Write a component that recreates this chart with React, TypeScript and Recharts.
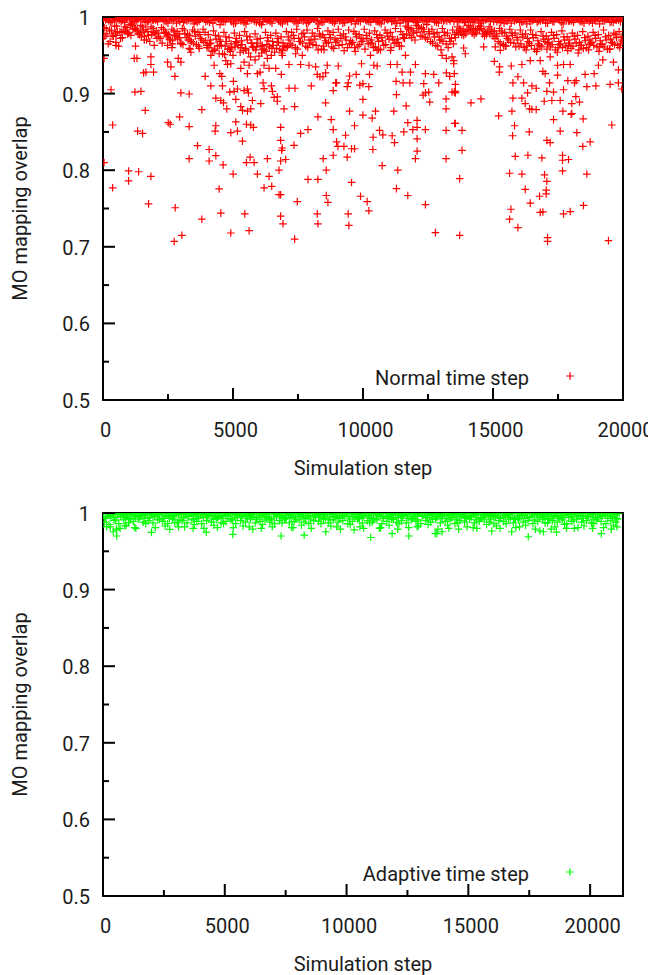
import React from 'react';
import { ScatterChart, Scatter, XAxis, YAxis, Legend, ReferenceArea } from 'recharts';

// ---------- axis ticks ----------
const normalXTicks = [0, 2500, 5000, 7500, 10000, 12500, 15000, 17500, 20000];
const adaptiveXTicks = [0, 2500, 5000, 7500, 10000, 12500, 15000, 17500, 20000];
const yTicks = [0.5, 0.55, 0.6, 0.65, 0.7, 0.75, 0.8, 0.85, 0.9, 0.95, 1];
const normalXMax = 20000;
const adaptiveXMax = 21350;
const yTitle = 'MO mapping overlap';
const xTitle = 'Simulation step';
const normalLabel = 'Normal time step';
const adaptiveLabel = 'Adaptive time step';

// ---------- Normal time step: dense band sampled every 200 steps ----------
const normalBand1 = [
  1, 1, 0.999, 1, 1, 1, 0.999, 1, 1, 1,
  1, 0.999, 1, 1, 1, 1, 1, 0.999, 1, 1,
  1, 1, 1, 0.999, 1, 1, 1, 1, 1, 0.999,
  1, 1, 1, 1, 0.999, 1, 1, 1, 1, 1,
  0.999, 1, 1, 1, 1, 1, 0.999, 1, 1, 1,
  1, 1, 0.999, 1, 1, 1, 1, 1, 1, 0.999,
  1, 1, 1, 1, 0.999, 1, 1, 1, 1, 1,
  1, 0.999, 1, 1, 1, 1, 1, 1, 0.999, 1,
  1, 1, 1, 0.999, 1, 1, 1, 1, 1, 1,
  0.999, 1, 1, 1, 1, 1, 0.999, 1, 1, 1,
  1,
];
const normalBand9 = [
  1, 0.999, 0.998, 1, 0.999, 1, 0.998, 0.999, 1, 0.999,
  0.998, 1, 0.999, 0.999, 1, 0.998, 1, 0.999, 0.998, 1,
  0.999, 1, 0.998, 1, 0.999, 0.999, 1, 0.998, 0.999, 1,
  1, 0.998, 0.999, 1, 0.999, 0.998, 1, 0.999, 1, 0.998,
  0.999, 1, 1, 0.998, 0.999, 1, 0.999, 0.998, 1, 0.999,
  1, 0.999, 0.998, 0.999, 1, 0.998, 0.999, 1, 0.999, 1,
  0.998, 0.999, 1, 0.999, 0.998, 1, 1, 0.999, 0.998, 0.999,
  1, 0.998, 0.999, 1, 0.999, 1, 0.998, 0.999, 1, 0.998,
  0.999, 1, 0.998, 0.999, 1, 0.999, 1, 0.998, 0.999, 1,
  1, 0.999, 0.998, 1, 0.999, 0.998, 1, 0.999, 1, 0.999,
];
const normalBand10 = [
  0.997, 0.995, 0.998, 0.996, 0.999, 0.994, 0.997, 0.998, 0.995, 0.996,
  0.998, 0.995, 0.997, 0.999, 0.994, 0.996, 0.998, 0.995, 0.997, 0.994,
  0.996, 0.999, 0.995, 0.997, 0.994, 0.998, 0.996, 0.995, 0.999, 0.997,
  0.994, 0.996, 0.998, 0.995, 0.997, 0.999, 0.994, 0.996, 0.998, 0.995,
  0.997, 0.994, 0.999, 0.996, 0.995, 0.997, 0.998, 0.994, 0.996, 0.999,
  0.995, 0.997, 0.994, 0.998, 0.996, 0.995, 0.999, 0.997, 0.994, 0.996,
  0.998, 0.995, 0.997, 0.994, 0.999, 0.996, 0.995, 0.998, 0.997, 0.994,
  0.996, 0.999, 0.995, 0.997, 0.998, 0.994, 0.996, 0.995, 0.999, 0.997,
  0.994, 0.998, 0.996, 0.995, 0.997, 0.999, 0.994, 0.996, 0.998, 0.995,
  0.997, 0.994, 0.999, 0.996, 0.995, 0.998, 0.997, 0.994, 0.996, 0.999,
];
const normalBand2 = [
  0.996, 0.993, 0.997, 0.994, 0.998, 0.992, 0.995, 0.997, 0.993, 0.996,
  0.994, 0.997, 0.992, 0.995, 0.998, 0.993, 0.996, 0.991, 0.995, 0.997,
  0.993, 0.996, 0.990, 0.994, 0.997, 0.992, 0.995, 0.991, 0.996, 0.993,
  0.990, 0.995, 0.992, 0.997, 0.991, 0.994, 0.996, 0.992, 0.995, 0.993,
  0.997, 0.991, 0.994, 0.996, 0.992, 0.995, 0.993, 0.997, 0.991, 0.994,
  0.996, 0.993, 0.995, 0.991, 0.997, 0.994, 0.992, 0.996, 0.995, 0.997,
  0.993, 0.996, 0.994, 0.997, 0.992, 0.995, 0.997, 0.994, 0.996, 0.993,
  0.997, 0.995, 0.992, 0.996, 0.994, 0.997, 0.993, 0.995, 0.992, 0.996,
  0.994, 0.991, 0.995, 0.993, 0.996, 0.992, 0.994, 0.997, 0.991, 0.995,
  0.993, 0.996, 0.992, 0.994, 0.997, 0.991, 0.995, 0.993, 0.996, 0.994,
];
const normalBand6 = [
  0.998, 0.995, 0.999, 0.996, 0.993, 0.998, 0.995, 0.999, 0.994, 0.997,
  0.996, 0.999, 0.994, 0.997, 0.992, 0.998, 0.995, 0.997, 0.993, 0.999,
  0.995, 0.992, 0.997, 0.994, 0.999, 0.991, 0.996, 0.993, 0.998, 0.995,
  0.992, 0.997, 0.994, 0.999, 0.993, 0.996, 0.998, 0.994, 0.997, 0.992,
  0.999, 0.995, 0.993, 0.997, 0.994, 0.998, 0.992, 0.996, 0.999, 0.995,
  0.997, 0.994, 0.998, 0.993, 0.996, 0.999, 0.995, 0.992, 0.997, 0.998,
  0.994, 0.999, 0.996, 0.998, 0.993, 0.997, 0.995, 0.999, 0.994, 0.996,
  0.998, 0.993, 0.997, 0.995, 0.999, 0.994, 0.996, 0.992, 0.998, 0.995,
  0.993, 0.997, 0.994, 0.999, 0.995, 0.992, 0.996, 0.998, 0.993, 0.997,
  0.995, 0.999, 0.994, 0.996, 0.992, 0.998, 0.995, 0.997, 0.993, 0.996,
];
const normalBand3 = [
  0.986, 0.983, 0.988, 0.981, 0.987, 0.990, 0.985, 0.989, 0.984, 0.987,
  0.982, 0.986, 0.979, 0.984, 0.981, 0.985, 0.978, 0.983, 0.980, 0.984,
  0.977, 0.982, 0.975, 0.980, 0.973, 0.979, 0.976, 0.981, 0.974, 0.978, 0.972, 0.980, 0.976, 0.979, 0.974, 0.981,
  0.980, 0.984, 0.978, 0.983, 0.979, 0.985, 0.977, 0.982, 0.980, 0.984, 0.978, 0.983, 0.981, 0.977, 0.984, 0.979, 0.982, 0.976, 0.983, 0.980, 0.985, 0.981,
  0.988, 0.985, 0.989, 0.986, 0.990, 0.984, 0.980, 0.985, 0.979, 0.983,
  0.987, 0.984, 0.989, 0.985, 0.988, 0.983, 0.987, 0.982, 0.985, 0.980, 0.984, 0.979, 0.983,
  0.978, 0.983, 0.976, 0.981, 0.975, 0.980, 0.977, 0.982, 0.974, 0.979, 0.976, 0.981, 0.975, 0.980, 0.977, 0.983, 0.976, 0.979, 0.981,
];
const normalBand7 = [
  0.985, 0.982, 0.988, 0.980, 0.986, 0.989, 0.983, 0.987, 0.981, 0.985,
  0.979, 0.984, 0.977, 0.982, 0.978, 0.983, 0.976, 0.981, 0.977, 0.980,
  0.970, 0.976, 0.968, 0.974, 0.965, 0.972, 0.969, 0.975, 0.966, 0.971, 0.963, 0.973, 0.968, 0.972, 0.966, 0.974,
  0.976, 0.972, 0.979, 0.970, 0.975, 0.978, 0.973, 0.977, 0.971, 0.976, 0.974, 0.969, 0.978, 0.972, 0.976, 0.970, 0.977, 0.973, 0.979, 0.974, 0.971, 0.977,
  0.986, 0.982, 0.988, 0.984, 0.981, 0.978, 0.974, 0.980, 0.972, 0.977,
  0.985, 0.981, 0.987, 0.983, 0.988, 0.980, 0.984, 0.978, 0.982, 0.975, 0.979, 0.973, 0.977,
  0.972, 0.977, 0.969, 0.975, 0.971, 0.976, 0.968, 0.974, 0.970, 0.975, 0.967, 0.973, 0.970, 0.976, 0.969, 0.974, 0.971, 0.977, 0.974,
];
const normalBand4 = [
  0.978, 0.975, 0.981, 0.973, 0.979, 0.984, 0.978, 0.982, 0.976, 0.980,
  0.974, 0.979, 0.971, 0.976, 0.973, 0.978, 0.970, 0.975, 0.972, 0.969,
  0.966, 0.971, 0.963, 0.968, 0.960, 0.967, 0.964, 0.970, 0.961, 0.966, 0.958, 0.969, 0.963, 0.967, 0.962, 0.970,
  0.972, 0.968, 0.974, 0.966, 0.971, 0.975, 0.969, 0.973, 0.967, 0.972, 0.970, 0.965, 0.974, 0.968, 0.972, 0.966, 0.973, 0.969, 0.975, 0.970, 0.967, 0.973,
  0.984, 0.979, 0.985, 0.981, 0.978, 0.974, 0.970, 0.976, 0.968, 0.973,
  0.982, 0.978, 0.984, 0.979, 0.985, 0.977, 0.981, 0.975, 0.979, 0.972, 0.976, 0.970, 0.974,
  0.968, 0.973, 0.965, 0.971, 0.967, 0.972, 0.964, 0.970, 0.966, 0.971, 0.963, 0.969, 0.966, 0.972, 0.965, 0.970, 0.967, 0.973, 0.970,
];
const normalBand8 = [
  0.975, 0.968, 0.979, 0.972, 0.981, 0.976, 0.983, 0.974, 0.970, 0.977,
  0.972, 0.966, 0.974, 0.969, 0.971, 0.964, 0.970, 0.966, 0.962, 0.967,
  0.960, 0.956, 0.963, 0.951, 0.958, 0.961, 0.954, 0.959, 0.948, 0.957, 0.962, 0.955, 0.950, 0.959, 0.953, 0.960,
  0.963, 0.958, 0.966, 0.960, 0.964, 0.957, 0.962, 0.967, 0.959, 0.963, 0.956, 0.965, 0.960, 0.964, 0.958, 0.966, 0.961, 0.957, 0.964, 0.960, 0.966, 0.962,
  0.978, 0.973, 0.980, 0.975, 0.971, 0.966, 0.962, 0.968, 0.960, 0.965,
  0.979, 0.976, 0.982, 0.977, 0.983, 0.975, 0.978, 0.972, 0.966, 0.962, 0.967, 0.961, 0.965,
  0.957, 0.963, 0.955, 0.961, 0.958, 0.964, 0.954, 0.960, 0.956, 0.962, 0.953, 0.959, 0.957, 0.963, 0.955, 0.961, 0.958, 0.964, 0.960,
];
const normalBand5 = [
  0.972, 0.965, 0.975, 0.962,
  0.983, 0.979, 0.985, 0.977,
  0.975, 0.968, 0.978, 0.972, 0.980,
  0.970, 0.975, 0.966, 0.973, 0.968,
  0.964, 0.970, 0.960,
  0.955, 0.962, 0.952, 0.958, 0.950, 0.963, 0.956, 0.953, 0.960, 0.949, 0.957, 0.961, 0.954, 0.958, 0.962,
  0.965, 0.960, 0.968, 0.962, 0.970, 0.963, 0.958, 0.966, 0.961, 0.969, 0.964, 0.960, 0.967, 0.962, 0.970, 0.965, 0.960, 0.968, 0.963, 0.971, 0.966, 0.962,
  0.972, 0.976, 0.970, 0.975, 0.973,
  0.968, 0.963, 0.970, 0.965, 0.972,
  0.980, 0.977, 0.983, 0.979, 0.984, 0.978, 0.981, 0.975,
  0.968, 0.964, 0.970, 0.966, 0.962,
  0.960, 0.966, 0.958, 0.963, 0.968, 0.961, 0.957, 0.965, 0.962, 0.959, 0.966, 0.963, 0.960, 0.967, 0.961, 0.964, 0.958, 0.966, 0.963, 0.968,
];
const normalDense = [
  [4100, 0.965], [4300, 0.958], [4500, 0.970], [4700, 0.962], [4900, 0.955], [5100, 0.968], [5300, 0.960], [5500, 0.957],
  [5700, 0.966], [5900, 0.961], [6100, 0.953], [6300, 0.964], [6500, 0.959], [6700, 0.967], [6900, 0.956], [7100, 0.962],
  [16300, 0.962], [16700, 0.958], [17100, 0.965], [17500, 0.960], [17900, 0.963], [18300, 0.957], [18700, 0.964],
  [19100, 0.961], [19500, 0.958], [19900, 0.965], [1250, 0.962], [2650, 0.960], [3350, 0.958], [8500, 0.957],
  [9700, 0.955], [10600, 0.958], [13000, 0.957], [15500, 0.962],
];
// ---------- Normal time step: scattered low values ----------
const normalScatter = [
  [307, 0.905], [1229, 0.902], [1459, 0.903], [2995, 0.901], [3315, 0.8995], [1625, 0.878], [371, 0.859], [2509, 0.862],
  [2585, 0.86], [2944, 0.8695], [3801, 0.879], [1331, 0.851], [1523, 0.848], [3315, 0.857], [4339, 0.858], [4313, 0.851],
  [4915, 0.849], [5171, 0.851], [5107, 0.863], [5517, 0.86], [5683, 0.859], [5785, 0.856], [5363, 0.838], [3635, 0.832],
  [4083, 0.827], [4339, 0.819], [3315, 0.815], [4083, 0.812], [4621, 0.807], [5517, 0.81], [5657, 0.817], [5811, 0.81],
  [6323, 0.815], [985, 0.799], [1369, 0.798], [985, 0.786], [1843, 0.792], [5005, 0.795], [5939, 0.795], [6387, 0.792],
  [371, 0.777], [4467, 0.7755], [6195, 0.777], [6490, 0.779], [6771, 0.768], [1753, 0.756], [2777, 0.751], [3801, 0.736],
  [4531, 0.744], [5453, 0.743], [4915, 0.718], [5619, 0.721], [2739, 0.707], [3033, 0.715],
  [1203, 0.946], [1305, 0.946], [1843, 0.948], [1843, 0.938], [1561, 0.927], [1651, 0.928], [1945, 0.928], [2765, 0.9225],
  [2483, 0.941], [2611, 0.935], [2893, 0.946], [2995, 0.941], [3929, 0.9225], [4147, 0.91], [4493, 0.926], [4569, 0.9225],
  [4595, 0.91], [5017, 0.916], [5043, 0.903], [5171, 0.906], [5427, 0.904], [5555, 0.906], [5593, 0.901], [5747, 0.891],
  [5107, 0.8925], [4877, 0.902], [4339, 0.894], [4531, 0.891], [4633, 0.888], [4761, 0.88], [5299, 0.883], [5363, 0.878],
  [5555, 0.877], [5683, 0.88], [6067, 0.887], [6157, 0.914], [6195, 0.9065], [6477, 0.91], [6515, 0.903], [6579, 0.895],
  [6643, 0.933], [5939, 0.926], [6041, 0.928], [6323, 0.946], [5555, 0.926], [5299, 0.933], [4787, 0.938], [4915, 0.939],
  [4275, 0.937], [499, 0.976], [499, 0.967], [499, 0.963], [947, 0.978], [1459, 0.98], [1971, 0.963], [1587, 0.97],
  [2483, 0.963], [2675, 0.965], [2995, 0.965], [3315, 0.959], [3379, 0.954], [3699, 0.959], [4019, 0.963], [4147, 0.95],
  [4467, 0.952], [4723, 0.943], [5427, 0.941], [5619, 0.937], [5849, 0.944], [6195, 0.937], [6387, 0.933], [40, 0.946], [40, 0.81],
  [6833, 0.856], [6833, 0.839], [6897, 0.829], [6871, 0.826], [6833, 0.812], [7025, 0.814], [6769, 0.8], [6833, 0.768],
  [6833, 0.74], [6923, 0.73], [7371, 0.71], [7473, 0.759], [7345, 0.8325], [7601, 0.848], [7883, 0.853], [7883, 0.788],
  [8267, 0.788], [8241, 0.743], [8267, 0.73], [8471, 0.815], [8587, 0.8], [8587, 0.767], [8651, 0.758], [8267, 0.8695],
  [8779, 0.866], [8855, 0.853], [8561, 0.888], [8983, 0.837], [9035, 0.831], [8855, 0.8195], [9265, 0.831], [9329, 0.8456],
  [9393, 0.817], [9559, 0.828], [9675, 0.828], [9559, 0.784], [9431, 0.743], [9457, 0.728], [9675, 0.858], [9905, 0.766],
  [10161, 0.759], [10225, 0.747], [9995, 0.872], [10353, 0.868], [10391, 0.843], [10379, 0.827], [10481, 0.877], [10635, 0.852],
  [10763, 0.846], [10737, 0.806], [11121, 0.845], [11211, 0.836], [11339, 0.8], [11287, 0.776], [11185, 0.877], [11723, 0.767],
  [11569, 0.85], [11723, 0.862], [11915, 0.853], [12081, 0.865], [12081, 0.856], [12081, 0.841], [12017, 0.815], [12081, 0.825],
  [12401, 0.853], [12401, 0.755], [12785, 0.7185], [13195, 0.815], [13195, 0.852], [13527, 0.861], [11659, 0.884], [9995, 0.8925],
  [9483, 0.877], [8855, 0.904], [8983, 0.914], [8011, 0.91], [7153, 0.907], [7383, 0.907], [6705, 0.8956], [6705, 0.89],
  [6961, 0.88], [7371, 0.883], [11287, 0.8986], [11275, 0.916], [11801, 0.914], [11543, 0.914], [12311, 0.898], [12401, 0.901],
  [12529, 0.902], [12567, 0.889], [12337, 0.913], [12913, 0.914], [13195, 0.893], [13195, 0.88], [13425, 0.902], [13553, 0.903],
  [13553, 0.912], [13335, 0.9225], [13207, 0.927],
  [6859, 0.925], [7153, 0.938], [7601, 0.938], [7921, 0.937], [8177, 0.935], [8241, 0.925], [8561, 0.927], [8625, 0.937],
  [9047, 0.936], [9483, 0.923], [9739, 0.925], [9943, 0.939], [10251, 0.925], [10417, 0.937], [10545, 0.936], [11057, 0.938],
  [11313, 0.938], [11505, 0.928], [11825, 0.928], [12017, 0.938], [12401, 0.926], [12721, 0.925], [13041, 0.95], [13207, 0.946],
  [13425, 0.948], [8945, 0.914], [9431, 0.914], [9879, 0.911], [9995, 0.913], [10225, 0.909], [9393, 0.909], [8343, 0.922],
  [8459, 0.922], [7665, 0.95], [7409, 0.952], [6897, 0.95], [10289, 0.95], [10545, 0.9565], [11633, 0.95], [11057, 0.9565],
  [13514, 0.902], [13552, 0.901], [14154, 0.888], [14538, 0.893], [13552, 0.861], [13808, 0.852], [13808, 0.826], [13718, 0.789],
  [13718, 0.715], [15216, 0.871], [15728, 0.877], [15830, 0.858], [15754, 0.845], [15856, 0.818], [15638, 0.796], [16112, 0.795],
  [16240, 0.775], [16432, 0.757], [15690, 0.749], [15638, 0.736], [15958, 0.725], [16342, 0.8195], [16394, 0.85], [16880, 0.816],
  [16982, 0.794], [17072, 0.7855], [17046, 0.774], [17046, 0.769], [16790, 0.766], [16816, 0.745], [16918, 0.7455], [17098, 0.712],
  [17098, 0.707], [17072, 0.839], [17200, 0.836], [17328, 0.866], [17584, 0.851], [17674, 0.8195], [17674, 0.813], [17904, 0.814],
  [17674, 0.799], [18608, 0.795], [18480, 0.754], [17712, 0.743], [17968, 0.746], [18224, 0.849], [18454, 0.831], [18736, 0.837],
  [19568, 0.859], [19440, 0.708], [18467, 0.867], [18032, 0.874], [17686, 0.877], [17072, 0.903], [17264, 0.891], [16970, 0.89],
  [16496, 0.8795], [16662, 0.879], [16406, 0.88], [16240, 0.887], [16112, 0.894], [15766, 0.894], [16330, 0.901], [16496, 0.91],
  [16662, 0.907], [16176, 0.914], [15766, 0.914], [15958, 0.922], [15702, 0.936], [15242, 0.928], [15254, 0.935], [15050, 0.942],
  [16918, 0.929], [17008, 0.926], [17482, 0.924], [17174, 0.914], [17328, 0.902], [17584, 0.891], [17712, 0.905], [17878, 0.917],
  [18134, 0.914], [18198, 0.917], [18186, 0.896], [18326, 0.889], [18608, 0.909], [18954, 0.91], [19504, 0.912], [19824, 0.931],
  [19824, 0.914], [19952, 0.906], [18544, 0.925], [18890, 0.926], [19056, 0.937], [19222, 0.944], [19632, 0.941], [18032, 0.887],
  [18006, 0.873], [17482, 0.937], [17712, 0.938], [17968, 0.938], [17200, 0.948], [16816, 0.943], [16432, 0.943], [16112, 0.938],
  [15088, 0.961], [15280, 0.9565], [15408, 0.963], [14640, 0.961], [13936, 0.952], [13872, 0.9595], [13488, 0.943], [13488, 0.939],
  [13514, 0.926],
];

// ---------- Adaptive time step ----------
const adaptiveBand1 = [
  1, 1, 0.999, 1, 1, 1, 0.999, 1, 1, 1,
  1, 0.999, 1, 1, 1, 1, 1, 0.999, 1, 1,
  1, 1, 1, 0.999, 1, 1, 1, 1, 1, 0.999,
  1, 1, 1, 1, 0.999, 1, 1, 1, 1, 1,
  0.999, 1, 1, 1, 1, 1, 0.999, 1, 1, 1,
  1, 1, 0.999, 1, 1, 1, 1, 1, 1, 0.999,
  1, 1, 1, 1, 0.999, 1, 1, 1, 1, 1,
  1, 0.999, 1, 1, 1, 1, 1, 1, 0.999, 1,
  1, 1, 1, 0.999, 1, 1, 1, 1, 1, 1,
  0.999, 1, 1, 1, 1, 1, 0.999, 1, 1, 1,
  1, 1, 0.999, 1, 1, 1, 1,
];
const adaptiveBand5 = [
  0.999, 1, 0.998, 0.999, 1, 0.998, 1, 0.999, 0.997, 1,
  0.998, 0.999, 1, 0.997, 0.999, 1, 0.998, 0.999, 1, 0.998,
  1, 0.998, 0.999, 1, 0.997, 0.999, 1, 0.998, 1, 0.999,
  0.997, 1, 0.999, 0.998, 1, 0.999, 0.997, 1, 0.998, 0.999,
  1, 0.999, 0.997, 1, 0.998, 0.999, 1, 0.998, 0.999, 0.997,
  0.999, 1, 0.998, 0.997, 1, 0.999, 0.998, 1, 0.999, 0.998,
  1, 0.997, 0.999, 1, 0.998, 1, 0.999, 0.997, 1, 0.998,
  0.999, 1, 0.998, 0.999, 0.997, 1, 0.998, 1, 0.999, 0.998,
  0.997, 0.999, 1, 0.998, 1, 0.999, 0.997, 0.999, 1, 0.998,
  1, 0.998, 0.999, 0.997, 1, 0.999, 0.998, 1, 0.997, 0.999,
  0.998, 1, 0.999, 0.997, 1, 0.998,
];
const adaptiveBand2 = [
  0.995, 0.997, 0.994, 0.998, 0.996, 0.993, 0.997, 0.995, 0.998, 0.994,
  0.996, 0.998, 0.993, 0.997, 0.995, 0.998, 0.994, 0.996, 0.997, 0.993,
  0.998, 0.995, 0.997, 0.994, 0.996, 0.998, 0.993, 0.997, 0.995, 0.996,
  0.998, 0.994, 0.997, 0.995, 0.993, 0.998, 0.996, 0.994, 0.997, 0.995,
  0.998, 0.993, 0.996, 0.997, 0.994, 0.998, 0.995, 0.996, 0.993, 0.997,
  0.995, 0.998, 0.994, 0.996, 0.997, 0.993, 0.998, 0.995, 0.996, 0.994,
  0.997, 0.995, 0.998, 0.993, 0.996, 0.997, 0.994, 0.998, 0.995, 0.996,
  0.993, 0.997, 0.995, 0.998, 0.994, 0.996, 0.997, 0.993, 0.998, 0.995,
  0.996, 0.994, 0.997, 0.998, 0.993, 0.995, 0.997, 0.994, 0.996, 0.998,
  0.995, 0.993, 0.997, 0.996, 0.994, 0.998, 0.995, 0.997, 0.993, 0.996,
  0.998, 0.994, 0.996, 0.997, 0.995, 0.993,
];
const adaptiveBand6 = [
  0.993, 0.995, 0.991, 0.996, 0.994, 0.992, 0.995, 0.997, 0.993, 0.994,
  0.996, 0.992, 0.995, 0.993, 0.997, 0.991, 0.994, 0.996, 0.992, 0.995,
  0.994, 0.997, 0.992, 0.995, 0.993, 0.996, 0.991, 0.994, 0.997, 0.993,
  0.995, 0.992, 0.996, 0.994, 0.991, 0.995, 0.997, 0.993, 0.994, 0.992,
  0.996, 0.994, 0.992, 0.995, 0.997, 0.993, 0.991, 0.995, 0.994, 0.996,
  0.992, 0.995, 0.993, 0.997, 0.994, 0.991, 0.996, 0.993, 0.995, 0.992,
  0.994, 0.997, 0.993, 0.995, 0.991, 0.996, 0.994, 0.992, 0.995, 0.993,
  0.997, 0.994, 0.992, 0.996, 0.993, 0.995, 0.991, 0.994, 0.997, 0.992,
  0.995, 0.993, 0.996, 0.994, 0.992, 0.997, 0.993, 0.995, 0.991, 0.994,
  0.996, 0.992, 0.995, 0.993, 0.997, 0.994, 0.991, 0.996, 0.993, 0.995,
  0.992, 0.994, 0.997, 0.993, 0.995, 0.992,
];
const adaptiveBand3 = [
  0.988, 0.985, 0.990, 0.986, 0.991, 0.987, 0.989, 0.992, 0.988, 0.990,
  0.987, 0.991, 0.989, 0.986, 0.992, 0.988, 0.990, 0.987, 0.991, 0.989,
  0.986, 0.990, 0.988, 0.992, 0.987, 0.989, 0.991, 0.986, 0.990, 0.988,
  0.992, 0.987, 0.989, 0.991, 0.988, 0.986, 0.990, 0.992, 0.987, 0.989,
  0.991, 0.988, 0.986, 0.990, 0.989, 0.992, 0.987, 0.991, 0.988, 0.990,
  0.986, 0.989, 0.992, 0.987, 0.990, 0.988, 0.991, 0.986, 0.989, 0.992,
  0.988, 0.990, 0.987, 0.991, 0.989, 0.986, 0.990, 0.988, 0.992, 0.987,
  0.989, 0.991, 0.986, 0.990, 0.988, 0.992, 0.987, 0.989, 0.991, 0.988,
  0.986, 0.990, 0.989, 0.992, 0.987, 0.991, 0.988, 0.990, 0.986, 0.989,
  0.992, 0.987, 0.990, 0.988, 0.991, 0.986, 0.989, 0.992, 0.988, 0.990,
  0.987, 0.991, 0.989, 0.986, 0.990, 0.988,
];
const adaptiveBand4 = [
  0.982, 0.979, 0.984, 0.980, 0.986, 0.981, 0.983, 0.987, 0.982, 0.985,
  0.980, 0.984, 0.986, 0.981, 0.983, 0.979, 0.985, 0.982, 0.987, 0.981,
  0.984, 0.980, 0.986, 0.983, 0.979, 0.985, 0.982, 0.987, 0.980, 0.984,
  0.986, 0.981, 0.983, 0.985, 0.979, 0.984, 0.987, 0.982, 0.980, 0.985,
  0.983, 0.986, 0.981, 0.984, 0.979, 0.987, 0.982, 0.985, 0.980, 0.983,
  0.986, 0.981, 0.984,
];
const adaptiveScatter = [
  [420, 0.9755], [560, 0.978], [560, 0.97], [1990, 0.9747], [2740, 0.9787], [4240, 0.975], [5330, 0.972], [7310, 0.97],
  [8260, 0.971], [9150, 0.9755], [10310, 0.978], [10990, 0.968], [11870, 0.973], [12560, 0.97], [13710, 0.973], [13920, 0.9755],
  [14600, 0.979], [15960, 0.9765], [16780, 0.9755], [17460, 0.969], [17940, 0.9765], [18620, 0.975], [19030, 0.98], [20460, 0.973],
  [20870, 0.979], [13640, 0.9734], [18080, 0.9755],
  [300, 0.982], [700, 0.98], [900, 0.983], [1300, 0.981], [3100, 0.982], [3700, 0.98], [4700, 0.981], [6000, 0.982],
  [6500, 0.98], [7800, 0.981], [9600, 0.982], [10700, 0.98], [11400, 0.981], [12100, 0.979], [12900, 0.982], [14200, 0.98],
  [15200, 0.981], [16300, 0.98], [17100, 0.982], [18400, 0.979], [19500, 0.981], [20100, 0.98], [21100, 0.982],
];

// ---------- helpers ----------
const band = (values: number[], start: number, spacing: number) =>
  values.map((v, i) => ({ x: start + i * spacing, y: v }));
const pairs = (list: number[][]) => list.map(([x, y]) => ({ x, y }));

const normalSeries = [
  band(normalBand8, 75, 200),
  band(normalBand5, 0, 200),
  band(normalBand4, 150, 200),
  band(normalBand7, 125, 200),
  band(normalBand3, 50, 200),
  pairs(normalDense),
  pairs(normalScatter),
  band(normalBand6, 25, 200),
  band(normalBand2, 100, 200),
  band(normalBand10, 150, 200),
  band(normalBand9, 50, 200),
  band(normalBand1, 0, 200),
];
const adaptiveSeries = [
  band(adaptiveBand4, 150, 400),
  band(adaptiveBand3, 50, 200),
  pairs(adaptiveScatter),
  band(adaptiveBand6, 125, 200),
  band(adaptiveBand2, 100, 200),
  band(adaptiveBand5, 25, 200),
  band(adaptiveBand1, 0, 200),
];

const FONT = 'Roboto, "Noto Sans", sans-serif';
const TEXT = '#1c1c1c';
const AXIS = '#000';

const makeCross = (color: string) => (props: any) => {
  const { cx, cy } = props;
  if (cx == null || cy == null) return <g />;
  return (
    <path
      d={`M${cx - 3.8},${cy}H${cx + 3.8}M${cx},${cy - 3.8}V${cy + 3.8}`}
      stroke={color}
      strokeWidth={1.2}
      fill="none"
    />
  );
};

const isMajorY = (v: number) => Math.abs(v * 10 - Math.round(v * 10)) < 1e-6;
const isMajorX = (v: number) => v % 5000 === 0;

const LeftTick = (p: any) => {
  const { x, y, payload } = p;
  const v = payload.value;
  const major = isMajorY(v);
  return (
    <g>
      <line x1={x} y1={y} x2={x + (major ? 12 : 6)} y2={y} stroke={AXIS} strokeWidth={2} />
      {major ? (
        <text x={x - 13} y={y + 8} textAnchor="end" fontSize={20} fontFamily={FONT} fill={TEXT}>
          {v === 1 ? '1' : v.toFixed(1)}
        </text>
      ) : null}
    </g>
  );
};
const RightTick = (p: any) => {
  const { x, y, payload } = p;
  const major = isMajorY(payload.value);
  return <line x1={x} y1={y} x2={x - (major ? 12 : 6)} y2={y} stroke={AXIS} strokeWidth={2} />;
};
const BottomTick = (p: any) => {
  const { x, y, payload } = p;
  const v = payload.value;
  const major = isMajorX(v);
  return (
    <g>
      <line x1={x} y1={y} x2={x} y2={y - (major ? 12 : 6)} stroke={AXIS} strokeWidth={2} />
      {major ? (
        <text x={x + 2.5} y={y + 36.5} textAnchor="middle" fontSize={20} fontFamily={FONT} fill={TEXT}>
          {String(v)}
        </text>
      ) : null}
    </g>
  );
};
const TopTick = (p: any) => {
  const { x, y, payload } = p;
  const major = isMajorX(payload.value);
  return <line x1={x} y1={y} x2={x} y2={y + (major ? 12 : 6)} stroke={AXIS} strokeWidth={2} />;
};

const XTitle = (p: any) => {
  const vb = p.viewBox || {};
  return (
    <text x={vb.x + vb.width / 2} y={vb.y + 75} textAnchor="middle" fontSize={20} fontFamily={FONT} fill={TEXT}>
      {xTitle}
    </text>
  );
};
const YTitle = (p: any) => {
  const vb = p.viewBox || {};
  const cx = 19;
  const cy = vb.y + vb.height / 2;
  return (
    <text
      x={cx}
      y={cy}
      transform={`rotate(-90, ${cx}, ${cy})`}
      textAnchor="middle"
      fontSize={20}
      fontFamily={FONT}
      fill={TEXT}
    >
      {yTitle}
    </text>
  );
};

const TOP_PAD = 15;

function Panel(props: {
  series: { x: number; y: number }[][];
  color: string;
  xMax: number;
  xTicks: number[];
  label: string;
  height: number;
  bottomMargin: number;
}) {
  const { series, color, xMax, xTicks, label, height, bottomMargin } = props;
  const shape = makeCross(color);
  return (
    <ScatterChart width={648} height={height} margin={{ top: TOP_PAD, right: 33, bottom: bottomMargin, left: 0 }}>
      {series.map((s, i) => (
        <Scatter
          key={i}
          data={s}
          xAxisId="b"
          yAxisId="l"
          shape={shape}
          isAnimationActive={false}
          legendType="none"
        />
      ))}
      <XAxis
        xAxisId="b"
        type="number"
        dataKey="x"
        domain={[0, xMax]}
        allowDataOverflow
        ticks={xTicks}
        interval={0}
        height={79}
        stroke={AXIS}
        tickSize={0}
        tickMargin={0}
        tickLine={false}
        tick={<BottomTick />}
        axisLine={{ stroke: AXIS, strokeWidth: 2 }}
        label={{ content: XTitle }}
      />
      <XAxis
        xAxisId="t"
        orientation="top"
        type="number"
        dataKey="x"
        domain={[0, xMax]}
        allowDataOverflow
        ticks={xTicks}
        interval={0}
        height={0}
        stroke={AXIS}
        tickSize={0}
        tickMargin={0}
        tickLine={false}
        tick={<TopTick />}
        axisLine={{ stroke: AXIS, strokeWidth: 2 }}
      />
      <YAxis
        yAxisId="l"
        type="number"
        dataKey="y"
        domain={[0.5, 1]}
        allowDataOverflow
        ticks={yTicks}
        interval={0}
        width={95}
        stroke={AXIS}
        tickSize={0}
        tickMargin={0}
        tickLine={false}
        tick={<LeftTick />}
        axisLine={{ stroke: AXIS, strokeWidth: 2 }}
        label={{ content: YTitle }}
      />
      <YAxis
        yAxisId="r"
        orientation="right"
        type="number"
        dataKey="y"
        domain={[0.5, 1]}
        allowDataOverflow
        ticks={yTicks}
        interval={0}
        width={0}
        stroke={AXIS}
        tickSize={0}
        tickMargin={0}
        tickLine={false}
        tick={<RightTick />}
        axisLine={{ stroke: AXIS, strokeWidth: 2 }}
      />
      <ReferenceArea
        xAxisId="b"
        yAxisId="l"
        x1={0}
        x2={xMax}
        y1={0.5}
        y2={1}
        fill="none"
        fillOpacity={0}
        stroke={AXIS}
        strokeWidth={2}
        ifOverflow="visible"
      />
      <Legend
        layout="horizontal"
        verticalAlign="middle"
        align="center"
        wrapperStyle={{ left: 300, top: 355 + TOP_PAD - 9, width: 300, height: 30 }}
        content={() => (
          <svg width={300} height={30} style={{ display: 'block' }}>
            <text x={221} y={22} textAnchor="end" fontSize={20} fontFamily={FONT} fill={TEXT}>
              {label}
            </text>
            <path d="M258.2,13H265.8M262,9.2V16.8" stroke={color} strokeWidth={1.2} fill="none" />
          </svg>
        )}
      />
    </ScatterChart>
  );
}

export default function App() {
  return (
    <div style={{ position: 'relative', width: 648, height: 967 }}>
      <div style={{ position: 'absolute', left: 0, top: -6 }}>
        <Panel
          series={normalSeries}
          color="#ff0000"
          xMax={normalXMax}
          xTicks={normalXTicks}
          label={normalLabel}
          height={486}
          bottomMargin={9}
        />
      </div>
      <div style={{ position: 'absolute', left: 0, top: 490 }}>
        <Panel
          series={adaptiveSeries}
          color="#00ff00"
          xMax={adaptiveXMax}
          xTicks={adaptiveXTicks}
          label={adaptiveLabel}
          height={477}
          bottomMargin={0}
        />
      </div>
    </div>
  );
}
